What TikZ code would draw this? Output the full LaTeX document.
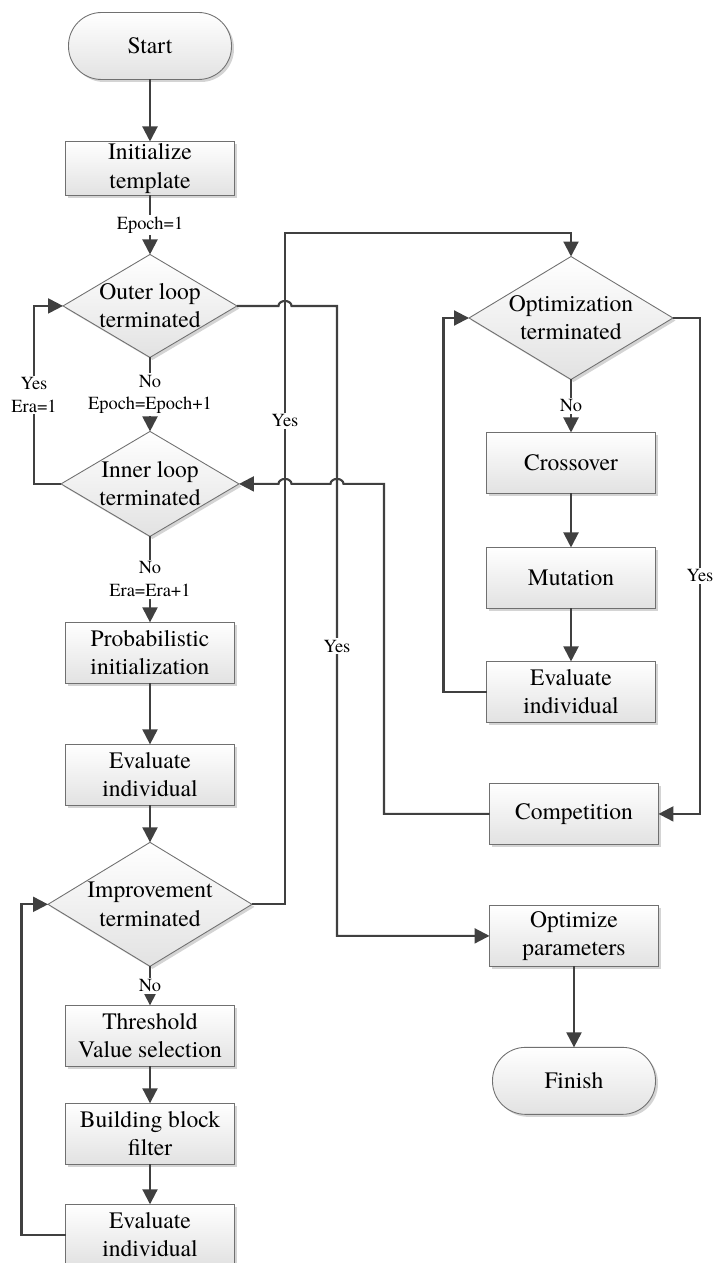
\documentclass[tikz,border=0pt]{standalone}
\usepackage{fontspec}
\setmainfont{texgyretermes-regular.otf}[BoldFont=texgyretermes-bold.otf]
\usetikzlibrary{positioning,arrows.meta,shapes.geometric,shadows,calc}

\definecolor{linegray}{HTML}{404040}
\definecolor{edgegray}{HTML}{707070}
\definecolor{fillgray}{HTML}{E2E2E2}
\definecolor{shadegray}{HTML}{D4D4D4}

\begin{document}
\begin{tikzpicture}[x=0.02cm,y=-0.02cm,>={Triangle[length=0.3cm,width=0.3cm]},
  box/.style={rectangle,draw=edgegray,line width=0.5pt,top color=white,bottom color=fillgray,
    drop shadow={shadow xshift=0.05cm,shadow yshift=-0.05cm,fill=shadegray,opacity=1},
    minimum width=3.38cm,minimum height=1.22cm,inner sep=0pt,outer sep=0pt,align=center,
    font=\fontsize{13.4}{16}\selectfont},
  term/.style={box,rounded corners=0.66cm,minimum width=3.26cm,minimum height=1.34cm},
  dec/.style={diamond,draw=edgegray,line width=0.5pt,top color=white,bottom color=fillgray,
    drop shadow={shadow xshift=0.05cm,shadow yshift=-0.05cm,fill=shadegray,opacity=1},
    inner sep=0pt,outer sep=0pt},
  dtxt/.style={align=center,font=\fontsize{13.4}{16}\selectfont},
  conn/.style={draw=linegray,line width=1.2pt},
  lbl/.style={fill=white,inner sep=1pt,align=center,font=\fontsize{10.5}{13}\selectfont}]
\useasboundingbox (0,0) rectangle (713,1263);

% left column
\node[term] (start) at (150,46) {Start};
\node[box,minimum height=1.08cm,below=1.24cm of start] (init) {Initialize\\template};
\node[dec,minimum width=3.48cm,minimum height=2.06cm,below=1.18cm of init,
  label={[dtxt]center:Outer loop\\terminated}] (outer) {};
\node[dec,minimum width=3.56cm,minimum height=2.1cm,below=1.48cm of outer,
  label={[dtxt]center:Inner loop\\terminated}] (inner) {};
\node[box,below=1.72cm of inner] (prob) {Probabilistic\\initialization};
\node[box,below=1.22cm of prob] (eval1) {Evaluate\\individual};
\node[dec,minimum width=4.08cm,minimum height=2.48cm,below=0.74cm of eval1,
  label={[dtxt]center:Improvement\\terminated}] (improve) {};
\node[box,below=0.78cm of improve] (thresh) {Threshold\\Value selection};
\node[box,below=0.74cm of thresh] (build) {Building block\\filter};
\node[box,below=0.8cm of build] (eval2) {Evaluate\\individual};

% right column
\node[dec,minimum width=4.08cm,minimum height=2.46cm,
  label={[dtxt]center:Optimization\\terminated}] (optim) at (571,318) {};
\node[box,below=1.06cm of optim] (cross) {Crossover};
\node[box,below=1.08cm of cross] (mut) {Mutation};
\node[box,below=1.06cm of mut] (eval3) {Evaluate\\individual};
\node[box,below=1.22cm of eval3,xshift=0.06cm] (comp) {Competition};
\node[box,below=1.22cm of comp] (optpar) {Optimize\\parameters};
\node[term,below=1.62cm of optpar] (finish) {Finish};

% turning points of the long connectors
\coordinate (j1) at (285,233);
\coordinate (j2) at (337,0);
\coordinate (j3) at (384,0);

\draw[conn,->] (start) -- (init);
\draw[conn,->] (init) -- node[lbl]{Epoch=1} (outer);
\draw[conn,->] (outer) -- node[lbl]{No\\Epoch=Epoch+1} (inner);
\draw[conn,->] (inner) -- node[lbl]{No\\Era=Era+1} (prob);
\draw[conn,->] (prob) -- (eval1);
\draw[conn,->] (eval1) -- (improve);
\draw[conn,->] (improve) -- node[lbl]{No} (thresh);
\draw[conn,->] (thresh) -- (build);
\draw[conn,->] (build) -- (eval2);
\draw[conn,->] (inner.west) -- ++(-27,0) |- node[lbl,pos=0.25]{Yes\\Era=1} (outer.west);
\draw[conn,->] (eval2.west) -- ++(-44,0) |- (improve.west);

\draw[conn,->] (improve.east) -| node[lbl,pos=0.86]{Yes} (j1) -| (optim.north);
\draw[conn,->] (outer.east) -- ($(outer.east -| j1)+(-6.5,0)$)
  arc[start angle=180,end angle=0,x radius=0.13cm,y radius=0.1cm]
  -- (outer.east -| j2) |- node[lbl,pos=0.27]{Yes} (optpar.west);
\draw[conn,->] (comp.west) -- (comp.west -| j3) -- (inner.east -| j3)
  -- ($(inner.east -| j2)+(6.5,0)$)
  arc[start angle=0,end angle=180,x radius=0.13cm,y radius=0.1cm]
  -- ($(inner.east -| j1)+(6.5,0)$)
  arc[start angle=0,end angle=180,x radius=0.13cm,y radius=0.1cm]
  -- (inner.east);

\draw[conn,->] (optim) -- node[lbl]{No} (cross);
\draw[conn,->] (cross) -- (mut);
\draw[conn,->] (mut) -- (eval3);
\draw[conn,->] (eval3.west) -- ++(-43,0) |- (optim.west);
\draw[conn,->] (optim.east) -- ++(27,0) |- node[lbl,pos=0.26]{Yes} (comp.east);
\draw[conn,->] (optpar) -- (finish);
\end{tikzpicture}
\end{document}
